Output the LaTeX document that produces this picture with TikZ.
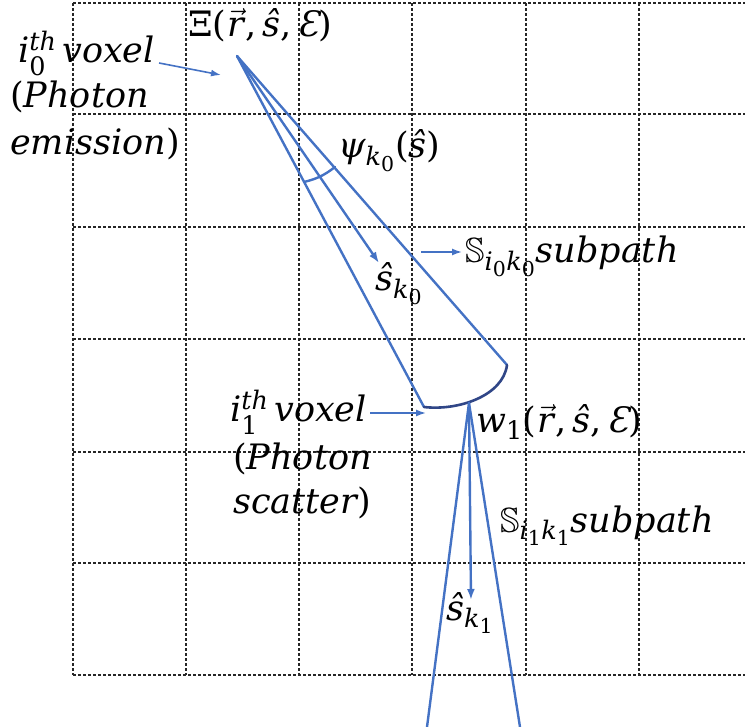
\RequirePackage{fix-cm}
\documentclass[tikz,border=0pt]{standalone}
\usepackage{amsmath,amssymb}
\usepackage{fontspec}
\setmainfont{DejaVu Serif}
\DeclareMathSizes{35}{35}{25.5}{20.5}
\usetikzlibrary{arrows.meta}
\definecolor{cblue}{RGB}{68,114,196}
\definecolor{darc}{RGB}{48,70,135}
\newcommand\vecr{\kern1pt$\vec{\text{r}}$\kern1pt}
\newcommand\up[1]{\text{\upshape #1}}
\begin{document}
\begin{tikzpicture}[x=1pt,y=-1pt,
  grid/.style={black!85, dash pattern=on 3pt off 2pt, line width=1.1pt},
  ray/.style={cblue, line width=2.4pt, line cap=round},
  ptr/.style={cblue, line width=1.6pt, -{Latex[length=10pt,width=7pt]}},
  rayptr/.style={cblue, line width=2.4pt, -{Latex[length=11pt,width=8pt]}},
  lbl/.style={inner sep=0pt, font=\fontsize{35}{42}\selectfont\itshape, anchor=base west}]
\useasboundingbox (0,0) rectangle (745,727);
% grid
\foreach \x in {73,186,299,412,526,639} \draw[grid] (\x,3) -- (\x,675);
\foreach \y in {3,114,227,339,452,563,675} \draw[grid] (73,\y) -- (745,\y);
% labels
\node[lbl] (xi) at (188,37) {{\upshape Ξ(}\vecr{\upshape,}\,ŝ{\upshape,}\,Ɛ{\upshape)}};
\node[lbl] (i0) at (18,63) {i$^{\text{th}}_{\up{0}}$\,voxel};
\node[lbl] (ph0) at (10,108) {{\upshape(}Photon};
\node[lbl] (em) at (10,155) {emission{\upshape)}};
\node[lbl] (psi) at (338,158) {ψ$_{\text{k}_{\up{0}}}${\upshape(}ŝ{\upshape)}};
\node[lbl] (S0) at (465,263) {$\mathbb{S}_{\text{i}_{\up{0}}\text{k}_{\up{0}}}$subpath};
\node[lbl] (sk0) at (375,291) {ŝ$_{\text{k}_{\up{0}}}$};
\node[lbl] (i1) at (230,422) {i$^{\text{th}}_{\up{1}}$\,voxel};
\node[lbl] (ph1) at (233,470) {{\upshape(}Photon};
\node[lbl] (sc) at (233,513) {scatter{\upshape)}};
\node[lbl] (w1) at (476,433) {w$_{\up{1}}${\upshape(}\vecr{\upshape,}\,ŝ{\upshape,}\,Ɛ{\upshape)}};
\node[lbl] (S1) at (500,532) {$\mathbb{S}_{\text{i}_{\up{1}}\text{k}_{\up{1}}}$subpath};
\node[lbl] (sk1) at (446,620) {ŝ$_{\text{k}_{\up{1}}}$};
% cone 1
\coordinate (A) at (237,56);
\coordinate (L) at (424,407);
\coordinate (R) at (507,365);
\coordinate (T0) at (379,263);
\coordinate (P1) at (304,182);
\coordinate (P2) at (335,167);
\draw[ray] (A) -- (L);
\draw[ray] (A) -- (R);
\draw[rayptr] (A) -- (T0);
\draw[darc, line width=2.6pt, line cap=round] (L) .. controls (458,411) and (503,396) .. (R);
\draw[ray] (P1) to[bend right=12] (P2);
% cone 2
\coordinate (B) at (469,403);
\coordinate (BL) at (427,727);
\coordinate (BR) at (520,727);
\coordinate (T1) at (471,600);
\draw[ray] (B) -- (BL);
\draw[ray] (B) -- (BR);
\draw[rayptr] (B) -- (T1);
% label pointers
\coordinate (e0) at (221,75);
\draw[ptr] ([shift={(4,0)}]i0.base east) -- (e0);
\coordinate (e1) at (426,413);
\draw[ptr] ([shift={(3,-9)}]i1.base east) -- (e1);
\coordinate (s0s) at (421,252);
\draw[ptr] (s0s) -- ([shift={(-3,-11)}]S0.base west);
\end{tikzpicture}
\end{document}
